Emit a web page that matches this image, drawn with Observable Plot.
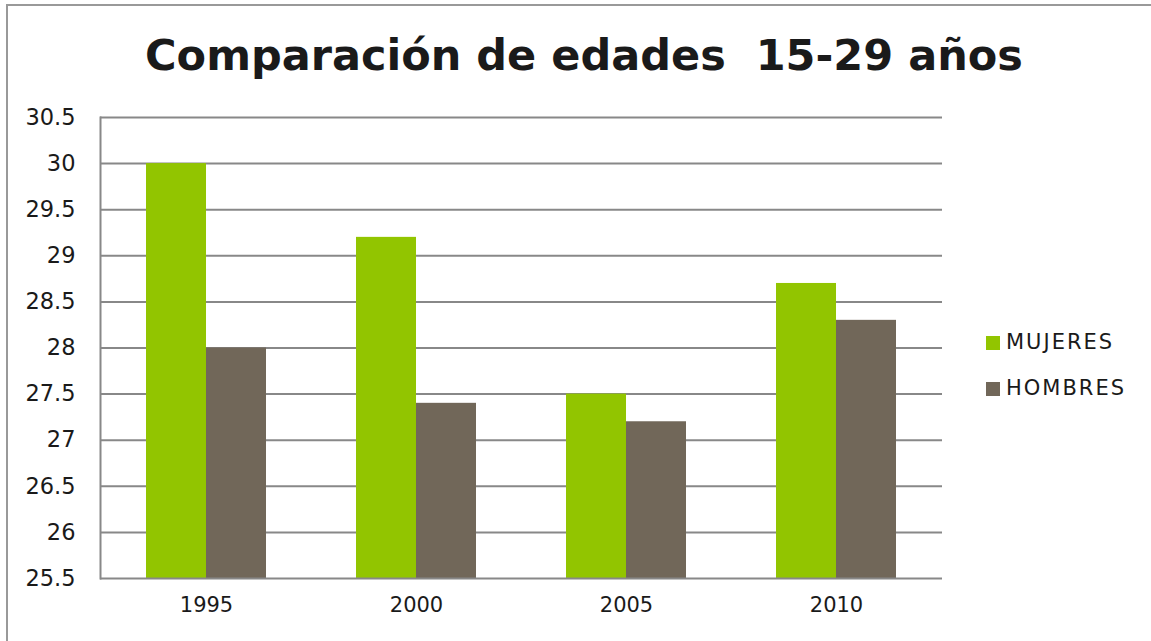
<!DOCTYPE html>
<html><head><meta charset="utf-8">
<script src="https://cdn.jsdelivr.net/npm/d3@7"></script>
<script src="https://cdn.jsdelivr.net/npm/@observablehq/plot@0.6"></script>
<style>
html,body{margin:0;padding:0;background:#fff;width:1151px;height:641px;overflow:hidden;}
#wrap{position:relative;width:1151px;height:641px;font-family:"DejaVu Sans",sans-serif;color:#1a1a1a;}
#border{position:absolute;left:6px;top:4px;width:1200px;height:700px;border-left:2px solid #999;border-top:2px solid #999;box-sizing:border-box;}
#title{position:absolute;left:0;width:1168px;top:30px;text-align:center;font-weight:bold;font-size:43px;white-space:pre;}
#legend{position:absolute;left:986px;top:330px;font-size:21px;letter-spacing:2px;}
#legend div{height:46px;display:flex;align-items:flex-start;}
#legend span.sw{display:inline-block;width:14px;height:14px;margin-right:6px;margin-top:6px;}
#chart{position:absolute;left:0;top:0;}
</style></head>
<body><div id="wrap"><div id="border"></div><div id="chart"></div><div id="title">Comparación de edades  15-29 años</div><div id="legend"></div></div>
<script>
const years = ["1995", "2000", "2005", "2010"];
const series = ["MUJERES", "HOMBRES"];
const mujeres = [30, 29.2, 27.5, 28.7];
const hombres = [28, 27.4, 27.2, 28.3];
const yTicks = [25.5, 26, 26.5, 27, 27.5, 28, 28.5, 29, 29.5, 30, 30.5];
const colors = ["#92C500", "#716759"];

const dataM = years.map((y, i) => ({year: y, serie: series[0], value: mujeres[i]}));
const dataH = years.map((y, i) => ({year: y, serie: series[1], value: hombres[i]}));

const W = 1151, mL = 100, mR = 209;
const step = (W - mL - mR) / years.length;
const half = step * (1 - 0.43) / 2;

const chart = Plot.plot({
  width: W, height: 641,
  marginLeft: mL, marginRight: mR, marginTop: 117, marginBottom: 63,
  style: {fontFamily: "DejaVu Sans, sans-serif", fontSize: "21px", color: "#1a1a1a", background: "transparent"},
  x: {domain: years, paddingInner: 0.43, paddingOuter: 0.215, label: null},
  y: {domain: [25.5, 30.5], label: null},
  color: {domain: series, range: colors},
  marks: [
    Plot.ruleY(yTicks.slice(1), {stroke: "#888", strokeWidth: 2}),
    Plot.barY(dataM, {x: "year", y1: 25.5, y2: "value", fill: "serie", insetLeft: 0, insetRight: half}),
    Plot.barY(dataH, {x: "year", y1: 25.5, y2: "value", fill: "serie", insetLeft: half, insetRight: 0}),
    Plot.ruleY([25.5], {stroke: "#888", strokeWidth: 2}),
    Plot.axisY({ticks: yTicks, tickSize: 0, tickPadding: 25, tickFormat: d => String(d), label: null, fontSize: 22.5}),
    Plot.axisX({tickSize: 0, tickPadding: 19, label: null, fontSize: 21}),
    Plot.frame({anchor: "left", stroke: "#888", strokeWidth: 2})
  ]
});
document.getElementById("chart").appendChild(chart);

const leg = document.getElementById("legend");
series.forEach((s, i) => {
  const d = document.createElement("div");
  d.innerHTML = `<span class="sw" style="background:${colors[i]}"></span><span>${s}</span>`;
  leg.appendChild(d);
});
</script></body></html>
